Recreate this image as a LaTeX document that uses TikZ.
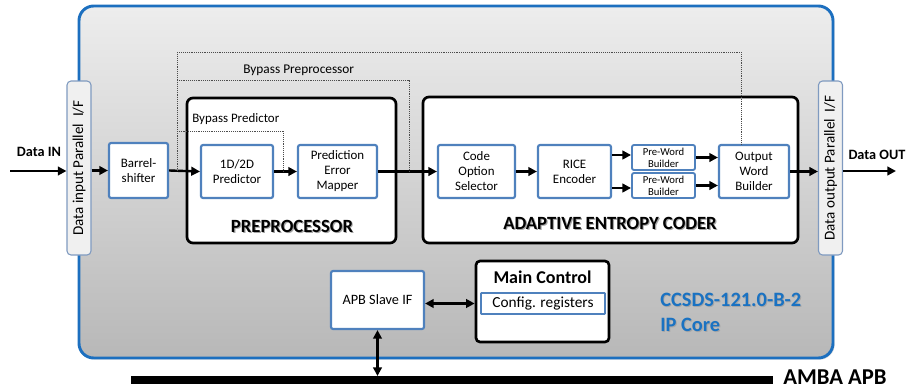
\documentclass[tikz,border=0pt]{standalone}
\usepackage{fontspec}
\setmainfont{Carlito}
\usetikzlibrary{arrows.meta,shadows}
\definecolor{bbl}{HTML}{4F81BD}
\definecolor{oblue}{HTML}{1C6FBF}
\definecolor{ctext}{HTML}{1A72C2}
\definecolor{tabfill}{HTML}{F0F0F0}
\definecolor{tabline}{HTML}{7F9AC0}
\tikzset{
  sz/.style 2 args={minimum width=#1*0.75pt, minimum height=#2*0.75pt},
  blk/.style={draw=bbl, line width=1.6pt, fill=white, rounded corners=1.5pt,
    align=center, inner sep=0pt, font=\fontsize{9.7}{11.25}\selectfont},
  smallblk/.style={blk, line width=1.4pt, font=\fontsize{8}{9}\selectfont},
  container/.style={draw=black, line width=2pt, fill=white, rounded corners=4.5pt, inner sep=0pt},
  tab/.style={draw=tabline, line width=0.8pt, fill=tabfill, rounded corners=3pt, rotate=90,
    inner sep=0pt, font=\fontsize{11.3}{12}\selectfont},
  arr/.style={line width=1.8pt, -{Triangle[length=6.5pt,width=6.5pt]}},
  darr/.style={line width=1.8pt, {Triangle[length=6.5pt,width=6.5pt]}-{Triangle[length=6.5pt,width=6.5pt]}},
  byp/.style={draw=black!70, line width=0.5pt, dash pattern=on 0.7pt off 0.7pt},
  biglbl/.style={font=\fontsize{14}{16}\selectfont\bfseries, inner sep=0pt},
  shade/.style={text=black!35, xshift=0.9pt, yshift=-0.9pt},
  smlbl/.style={font=\fontsize{9.7}{11}\selectfont, inner sep=0pt, anchor=west},
  iolbl/.style={font=\fontsize{10.7}{12}\selectfont\bfseries, inner sep=0pt},
}
\begin{document}
\begin{tikzpicture}[x=0.75pt,y=-0.75pt]
\useasboundingbox (0,0) rectangle (906,389);

% outer core
\node[sz={754}{352}, draw=oblue, line width=2.2pt, rounded corners=11pt,
  top color=black!7, bottom color=black!28,
  drop shadow={opacity=0.25, shadow xshift=1.2pt, shadow yshift=-1.2pt}] (core) at (456,182) {};

% interface tabs
\node[tab, sz={174}{24}] (intab) at (79,168) {Data input Parallel\ \ I/F};
\node[tab, sz={174}{24}] (outtab) at (830.5,168) {Data output Parallel\ \ I/F};

% containers
\node[container, sz={209}{145}] (pp) at (291.5,170.5) {};
\node[container, sz={375}{146}] (aec) at (610.5,170) {};

% preprocessor labels
\node[biglbl, shade] (pplbls) at (292,226) {PREPROCESSOR};
\node[biglbl] (pplbl) at (292,226) {PREPROCESSOR};
\node[biglbl, shade] (aeclbls) at (610,223) {ADAPTIVE ENTROPY CODER};
\node[biglbl] (aeclbl) at (610,223) {ADAPTIVE ENTROPY CODER};

% blocks
\node[blk, sz={59}{55}] (bs) at (138.5,170.5) {Barrel-\\shifter};
\node[blk, sz={72}{53}] (pred) at (237,171.5) {1D/2D\\Predictor};
\node[blk, sz={79}{53}] (pem) at (337.5,171.5) {Prediction\\Error\\Mapper};
\node[blk, sz={77}{53}] (cos) at (476.5,171.5) {Code\\Option\\Selector};
\node[blk, sz={73}{53}] (rice) at (574.5,171.5) {RICE\\Encoder};
\node[smallblk, sz={63}{25}] (pw1) at (663.5,157.5) {Pre-Word\\Builder};
\node[smallblk, sz={63}{25}] (pw2) at (663.5,185.5) {Pre-Word\\Builder};
\node[blk, sz={70}{53}] (owb) at (754,171.5) {Output\\Word\\Builder};

% control
\node[blk, sz={93}{58}, font=\fontsize{10.7}{12}\selectfont] (apb) at (377.5,300) {APB Slave IF};
\node[container, sz={133}{81}, rounded corners=3pt] (mc) at (542.5,301.5) {};
\node[font=\fontsize{13.5}{15}\selectfont\bfseries, inner sep=0pt] (mclbl) at (542.5,277.5) {Main Control};
\node[blk, line width=1.3pt, rounded corners=0.5pt, sz={124}{21}, font=\fontsize{11.5}{13}\selectfont] (cfg) at (543,303.5) {Config. registers};

% core title
\node[font=\fontsize{15.3}{19}\selectfont\bfseries, text=black!35, anchor=west, align=left, inner sep=0pt] (ccsdss) at (660.9,313.5) {CCSDS-121.0-B-2\\IP Core};
\node[font=\fontsize{15.3}{19}\selectfont\bfseries, text=ctext, anchor=west, align=left, inner sep=0pt] (ccsds) at (660,312.5) {CCSDS-121.0-B-2\\IP Core};

% bus
\coordinate (busL) at (131,380);
\coordinate (busR) at (773,380);
\coordinate (busJ) at (377.5,376);
\draw[line width=6pt] (busL) -- (busR);
\node[font=\fontsize{17}{19}\selectfont\bfseries, inner sep=0pt, anchor=west] (amba) at (783,377) {AMBA APB};

% IO
\coordinate (din) at (10,171);
\coordinate (dout) at (896,171);
\node[iolbl] (dinlbl) at (39,152) {Data IN};
\node[iolbl] (doutlbl) at (877,155) {Data OUT};

% data arrows
\draw[arr] (din) -- (din -| intab.north);
\draw[arr] (intab.south |- bs) -- (bs.west);
\draw[arr] (bs.east) -- (pred.west);
\draw[arr] (pred.east) -- (pem.west);
\draw[arr] (pem.east) -- (cos.west);
\draw[arr] (cos.east) -- (rice.west);
\draw[arr] (rice.east |- 0,155) -- (pw1.west |- 0,155);
\draw[arr] (rice.east |- 0,188) -- (pw2.west |- 0,188);
\draw[arr] (pw1.east) -- (owb.west |- pw1);
\draw[arr] (pw2.east) -- (owb.west |- pw2);
\draw[arr] (owb.east) -- (outtab.north |- owb);
\draw[arr] (outtab.south |- dout) -- (dout);
\draw[darr] (apb.east |- cfg) -- (mc.west |- cfg);
\draw[darr] (apb.south) -- (busJ);

% bypass paths
\coordinate (bpA) at (177,171);
\coordinate (bpB) at (741,52);
\coordinate (bpC) at (409,171);
\coordinate (bpD) at (283,171);
\draw[byp] (bpA) -- (177,52) -- (bpB) -- (bpB |- owb.north);
\draw[byp] (177,80) -| (bpC);
\draw[byp] (177,131) -| (bpD);
\node[smlbl, font=\fontsize{10}{11}\selectfont] (bpplbl) at (243,70) {Bypass Preprocessor};
\node[smlbl] (bpdlbl) at (192,119) {Bypass Predictor};
\end{tikzpicture}
\end{document}
